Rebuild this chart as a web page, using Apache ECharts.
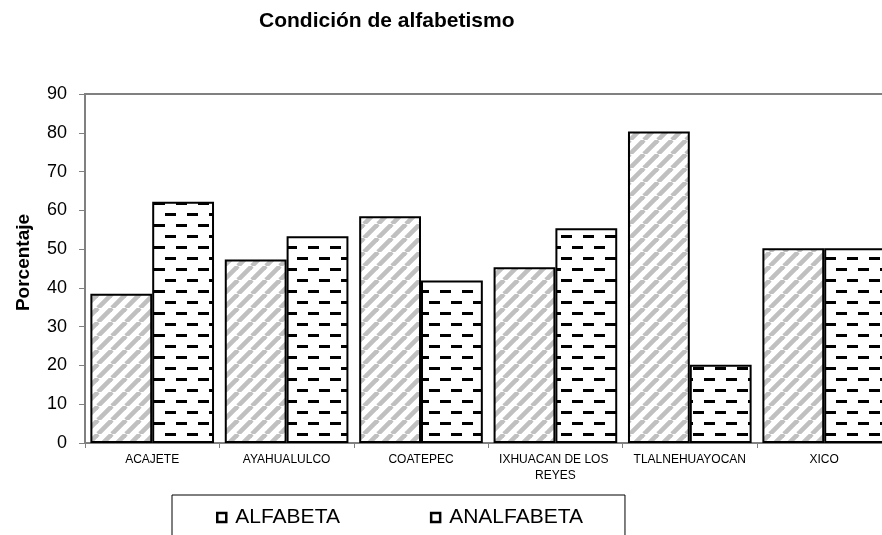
<!DOCTYPE html>
<html>
<head>
<meta charset="utf-8">
<script src="https://cdn.jsdelivr.net/npm/echarts@6/dist/echarts.min.js"></script>
<style>
html,body{margin:0;padding:0;background:#fff;}
#chart{width:882px;height:535px;}
</style>
</head>
<body>
<div id="chart"></div>
<script>
const categories = ['ACAJETE', 'AYAHUALULCO', 'COATEPEC', 'IXHUACAN DE LOS REYES', 'TLALNEHUAYOCAN', 'XICO'];
const alfabeta = [38.5, 47.3, 58.5, 45.3, 80.3, 50.2];
const analfabeta = [62.2, 53.3, 41.9, 55.4, 20.2, 50.2];
const seriesNames = ['ALFABETA', 'ANALFABETA'];
const titleText = 'Condición de alfabetismo';
const yAxisName = 'Porcentaje';

const FONT = "'Liberation Sans', Arial, sans-serif";

function stripePattern() {
  const s = 14;
  const c = document.createElement('canvas');
  c.width = s; c.height = s;
  const ctx = c.getContext('2d');
  ctx.fillStyle = '#fff';
  ctx.fillRect(0, 0, s, s);
  ctx.strokeStyle = '#c0c0c0';
  ctx.lineWidth = 4.6;
  for (let k = -1; k <= 1; k++) {
    ctx.beginPath();
    ctx.moveTo(k * s, s);
    ctx.lineTo(k * s + s, 0);
    ctx.stroke();
  }
  return c;
}
function dashPattern() {
  const s = 22;
  const c = document.createElement('canvas');
  c.width = s; c.height = s;
  const ctx = c.getContext('2d');
  ctx.fillStyle = '#fff';
  ctx.fillRect(0, 0, s, s);
  ctx.fillStyle = '#000';
  ctx.fillRect(0, 4, 11, 3);
  ctx.fillRect(11, 15, 11, 3);
  return c;
}

const chart = echarts.init(document.getElementById('chart'), null, {renderer: 'canvas'});
chart.setOption({
  animation: false,
  backgroundColor: '#fff',
  title: {
    text: titleText,
    left: 259,
    top: 11,
    padding: 0,
    textStyle: {fontFamily: FONT, fontSize: 21, fontWeight: 'bold', color: '#000'}
  },
  legend: {
    left: 172,
    top: 495,
    orient: 'horizontal',
    padding: [12, 42, 30, 44],
    itemGap: 90,
    itemWidth: 9,
    itemHeight: 9,
    borderColor: '#000',
    borderWidth: 1,
    backgroundColor: '#fff',
    textStyle: {fontFamily: FONT, fontSize: 21, color: '#000', padding: [0, 0, 0, 4]},
    data: [
      {name: seriesNames[0], icon: 'rect', itemStyle: {color: '#fff', borderColor: '#000', borderWidth: 2.5}},
      {name: seriesNames[1], icon: 'rect', itemStyle: {color: '#fff', borderColor: '#000', borderWidth: 2.5}}
    ]
  },
  grid: {
    left: 85,
    top: 94,
    height: 349,
    width: 806.4,
    containLabel: false,
    outerBoundsMode: 'none',
    show: true,
    borderColor: '#808080',
    borderWidth: 2,
    backgroundColor: 'transparent'
  },
  xAxis: {
    type: 'category',
    data: categories,
    axisLine: {lineStyle: {color: '#808080', width: 2}},
    axisTick: {show: true, length: 5, lineStyle: {color: '#808080', width: 1}},
    axisLabel: {
      fontFamily: FONT, fontSize: 12, color: '#000', margin: 9, lineHeight: 16,
      width: 125, overflow: 'break', interval: 0
    },
    splitLine: {show: false}
  },
  yAxis: {
    type: 'value',
    min: 0,
    max: 90,
    interval: 10,
    name: yAxisName,
    nameLocation: 'middle',
    nameGap: 52,
    nameTextStyle: {fontFamily: FONT, fontSize: 19, fontWeight: 'bold', color: '#000', padding: [0, 0, 0, 12]},
    axisLine: {show: true, lineStyle: {color: '#808080', width: 2}},
    axisTick: {show: true, length: 6, lineStyle: {color: '#808080', width: 1}},
    axisLabel: {fontFamily: FONT, fontSize: 18, color: '#000', margin: 18},
    splitLine: {show: false}
  },
  series: [
    {
      name: seriesNames[0],
      type: 'bar',
      data: alfabeta,
      barGap: '0%',
      barCategoryGap: '8%',
      itemStyle: {color: {image: stripePattern(), repeat: 'repeat'}, borderColor: '#000', borderWidth: 2},
      emphasis: {disabled: true}
    },
    {
      name: seriesNames[1],
      type: 'bar',
      data: analfabeta,
      barGap: '0%',
      barCategoryGap: '8%',
      itemStyle: {color: {image: dashPattern(), repeat: 'repeat'}, borderColor: '#000', borderWidth: 2},
      emphasis: {disabled: true}
    }
  ]
});
</script>
</body>
</html>
